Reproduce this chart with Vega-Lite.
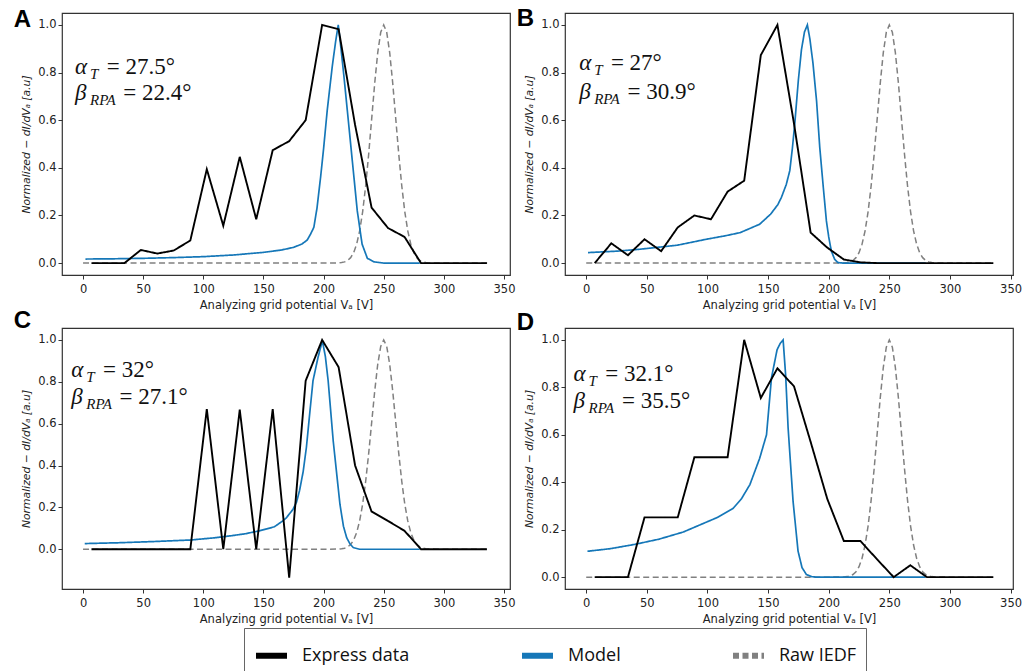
{
"$schema": "https://vega.github.io/schema/vega-lite/v6.json",
"padding": {"left": 13, "top": 6, "right": 0, "bottom": 0},
"background": "white",
"columns": 2,
"spacing": {"column": 0, "row": -4},
"resolve": {"scale": {"x": "independent", "y": "independent"}},
"datasets": {
"raw": [
{"s":"Raw IEDF","V":0,"y":0},{"s":"Raw IEDF","V":100,"y":0},{"s":"Raw IEDF","V":200,"y":0},{"s":"Raw IEDF","V":212.5,"y":0.0009},{"s":"Raw IEDF","V":215,"y":0.0022},{"s":"Raw IEDF","V":217.5,"y":0.0051},{"s":"Raw IEDF","V":220,"y":0.0111},{"s":"Raw IEDF","V":222.5,"y":0.0228},{"s":"Raw IEDF","V":225,"y":0.0439},{"s":"Raw IEDF","V":227.5,"y":0.0796},{"s":"Raw IEDF","V":230,"y":0.1353},{"s":"Raw IEDF","V":232.5,"y":0.2163},{"s":"Raw IEDF","V":235,"y":0.3247},{"s":"Raw IEDF","V":237.5,"y":0.4578},{"s":"Raw IEDF","V":240,"y":0.6065},{"s":"Raw IEDF","V":242.5,"y":0.7548},{"s":"Raw IEDF","V":245,"y":0.8825},{"s":"Raw IEDF","V":247.5,"y":0.969},{"s":"Raw IEDF","V":250,"y":1},{"s":"Raw IEDF","V":252.5,"y":0.969},{"s":"Raw IEDF","V":255,"y":0.8825},{"s":"Raw IEDF","V":257.5,"y":0.7548},{"s":"Raw IEDF","V":260,"y":0.6065},{"s":"Raw IEDF","V":262.5,"y":0.4578},{"s":"Raw IEDF","V":265,"y":0.3247},{"s":"Raw IEDF","V":267.5,"y":0.2163},{"s":"Raw IEDF","V":270,"y":0.1353},{"s":"Raw IEDF","V":272.5,"y":0.0796},{"s":"Raw IEDF","V":275,"y":0.0439},{"s":"Raw IEDF","V":277.5,"y":0.0228},{"s":"Raw IEDF","V":280,"y":0.0111},{"s":"Raw IEDF","V":282.5,"y":0.0051},{"s":"Raw IEDF","V":285,"y":0.0022},{"s":"Raw IEDF","V":287.5,"y":0.0009},{"s":"Raw IEDF","V":300,"y":0},{"s":"Raw IEDF","V":336,"y":0}
],
"curves": [
{"p":"A","s":"Express data","V":7,"y":0},{"p":"A","s":"Express data","V":20.7,"y":0},{"p":"A","s":"Express data","V":34.4,"y":0},{"p":"A","s":"Express data","V":48.1,"y":0.055},{"p":"A","s":"Express data","V":61.8,"y":0.04},{"p":"A","s":"Express data","V":75.5,"y":0.053},{"p":"A","s":"Express data","V":89.2,"y":0.095},{"p":"A","s":"Express data","V":102.9,"y":0.394},{"p":"A","s":"Express data","V":116.6,"y":0.157},{"p":"A","s":"Express data","V":130.3,"y":0.446},{"p":"A","s":"Express data","V":144,"y":0.184},{"p":"A","s":"Express data","V":157.7,"y":0.474},{"p":"A","s":"Express data","V":171.4,"y":0.512},{"p":"A","s":"Express data","V":185.1,"y":0.6},{"p":"A","s":"Express data","V":198.8,"y":1.0},{"p":"A","s":"Express data","V":212.5,"y":0.982},{"p":"A","s":"Express data","V":226.2,"y":0.58},{"p":"A","s":"Express data","V":239.9,"y":0.233},{"p":"A","s":"Express data","V":253.6,"y":0.147},{"p":"A","s":"Express data","V":267.3,"y":0.11},{"p":"A","s":"Express data","V":281,"y":0},{"p":"A","s":"Express data","V":294.7,"y":0},{"p":"A","s":"Express data","V":308.4,"y":0},{"p":"A","s":"Express data","V":322.1,"y":0},{"p":"A","s":"Express data","V":335.8,"y":0},
{"p":"B","s":"Express data","V":7,"y":0},{"p":"B","s":"Express data","V":20.7,"y":0.083},{"p":"B","s":"Express data","V":34.4,"y":0.033},{"p":"B","s":"Express data","V":48.1,"y":0.1},{"p":"B","s":"Express data","V":61.8,"y":0.05},{"p":"B","s":"Express data","V":75.5,"y":0.15},{"p":"B","s":"Express data","V":89.2,"y":0.2},{"p":"B","s":"Express data","V":102.9,"y":0.184},{"p":"B","s":"Express data","V":116.6,"y":0.3},{"p":"B","s":"Express data","V":130.3,"y":0.346},{"p":"B","s":"Express data","V":144,"y":0.873},{"p":"B","s":"Express data","V":157.7,"y":1.0},{"p":"B","s":"Express data","V":171.4,"y":0.585},{"p":"B","s":"Express data","V":185.1,"y":0.128},{"p":"B","s":"Express data","V":198.8,"y":0.065},{"p":"B","s":"Express data","V":212.5,"y":0.015},{"p":"B","s":"Express data","V":226.2,"y":0.003},{"p":"B","s":"Express data","V":239.9,"y":0},{"p":"B","s":"Express data","V":253.6,"y":0},{"p":"B","s":"Express data","V":267.3,"y":0},{"p":"B","s":"Express data","V":281,"y":0},{"p":"B","s":"Express data","V":294.7,"y":0},{"p":"B","s":"Express data","V":308.4,"y":0},{"p":"B","s":"Express data","V":322.1,"y":0},{"p":"B","s":"Express data","V":335.8,"y":0},
{"p":"C","s":"Express data","V":7,"y":0},{"p":"C","s":"Express data","V":20.7,"y":0},{"p":"C","s":"Express data","V":34.4,"y":0},{"p":"C","s":"Express data","V":48.1,"y":0},{"p":"C","s":"Express data","V":61.8,"y":0},{"p":"C","s":"Express data","V":75.5,"y":0},{"p":"C","s":"Express data","V":89.2,"y":0},{"p":"C","s":"Express data","V":102.9,"y":0.67},{"p":"C","s":"Express data","V":116.6,"y":0},{"p":"C","s":"Express data","V":130.3,"y":0.667},{"p":"C","s":"Express data","V":144,"y":0},{"p":"C","s":"Express data","V":157.7,"y":0.67},{"p":"C","s":"Express data","V":171.4,"y":-0.136},{"p":"C","s":"Express data","V":185.1,"y":0.805},{"p":"C","s":"Express data","V":198.8,"y":1.0},{"p":"C","s":"Express data","V":212.5,"y":0.87},{"p":"C","s":"Express data","V":226.2,"y":0.4},{"p":"C","s":"Express data","V":239.9,"y":0.18},{"p":"C","s":"Express data","V":253.6,"y":0.135},{"p":"C","s":"Express data","V":267.3,"y":0.088},{"p":"C","s":"Express data","V":281,"y":0},{"p":"C","s":"Express data","V":294.7,"y":0},{"p":"C","s":"Express data","V":308.4,"y":0},{"p":"C","s":"Express data","V":322.1,"y":0},{"p":"C","s":"Express data","V":335.8,"y":0},
{"p":"D","s":"Express data","V":7,"y":0},{"p":"D","s":"Express data","V":20.7,"y":0},{"p":"D","s":"Express data","V":34.4,"y":0},{"p":"D","s":"Express data","V":48.1,"y":0.252},{"p":"D","s":"Express data","V":61.8,"y":0.252},{"p":"D","s":"Express data","V":75.5,"y":0.252},{"p":"D","s":"Express data","V":89.2,"y":0.505},{"p":"D","s":"Express data","V":102.9,"y":0.505},{"p":"D","s":"Express data","V":116.6,"y":0.505},{"p":"D","s":"Express data","V":130.3,"y":1.0},{"p":"D","s":"Express data","V":144,"y":0.755},{"p":"D","s":"Express data","V":157.7,"y":0.88},{"p":"D","s":"Express data","V":171.4,"y":0.804},{"p":"D","s":"Express data","V":185.1,"y":0.57},{"p":"D","s":"Express data","V":198.8,"y":0.33},{"p":"D","s":"Express data","V":212.5,"y":0.152},{"p":"D","s":"Express data","V":226.2,"y":0.152},{"p":"D","s":"Express data","V":239.9,"y":0.075},{"p":"D","s":"Express data","V":253.6,"y":0},{"p":"D","s":"Express data","V":267.3,"y":0.05},{"p":"D","s":"Express data","V":281,"y":0},{"p":"D","s":"Express data","V":294.7,"y":0},{"p":"D","s":"Express data","V":308.4,"y":0},{"p":"D","s":"Express data","V":322.1,"y":0},{"p":"D","s":"Express data","V":335.8,"y":0},
{"p":"A","s":"Model","V":2,"y":0.017},{"p":"A","s":"Model","V":25,"y":0.018},{"p":"A","s":"Model","V":50,"y":0.02},{"p":"A","s":"Model","V":75,"y":0.023},{"p":"A","s":"Model","V":100,"y":0.027},{"p":"A","s":"Model","V":125,"y":0.034},{"p":"A","s":"Model","V":150,"y":0.045},{"p":"A","s":"Model","V":165,"y":0.055},{"p":"A","s":"Model","V":175,"y":0.066},{"p":"A","s":"Model","V":182,"y":0.08},{"p":"A","s":"Model","V":186.4,"y":0.097},{"p":"A","s":"Model","V":189,"y":0.12},{"p":"A","s":"Model","V":191.9,"y":0.15},{"p":"A","s":"Model","V":194.5,"y":0.23},{"p":"A","s":"Model","V":197.5,"y":0.36},{"p":"A","s":"Model","V":200,"y":0.48},{"p":"A","s":"Model","V":203,"y":0.64},{"p":"A","s":"Model","V":207.2,"y":0.825},{"p":"A","s":"Model","V":210,"y":0.93},{"p":"A","s":"Model","V":212.2,"y":1.0},{"p":"A","s":"Model","V":214.5,"y":0.9},{"p":"A","s":"Model","V":217,"y":0.78},{"p":"A","s":"Model","V":222.5,"y":0.5},{"p":"A","s":"Model","V":228,"y":0.22},{"p":"A","s":"Model","V":232,"y":0.08},{"p":"A","s":"Model","V":236.4,"y":0.02},{"p":"A","s":"Model","V":242,"y":0.005},{"p":"A","s":"Model","V":250,"y":0},{"p":"A","s":"Model","V":280,"y":0},
{"p":"B","s":"Model","V":1.5,"y":0.044},{"p":"B","s":"Model","V":25,"y":0.05},{"p":"B","s":"Model","V":44,"y":0.058},{"p":"B","s":"Model","V":75,"y":0.075},{"p":"B","s":"Model","V":99,"y":0.1},{"p":"B","s":"Model","V":115,"y":0.115},{"p":"B","s":"Model","V":127,"y":0.128},{"p":"B","s":"Model","V":143,"y":0.163},{"p":"B","s":"Model","V":152,"y":0.205},{"p":"B","s":"Model","V":158,"y":0.245},{"p":"B","s":"Model","V":161,"y":0.276},{"p":"B","s":"Model","V":165,"y":0.33},{"p":"B","s":"Model","V":167.9,"y":0.388},{"p":"B","s":"Model","V":170,"y":0.48},{"p":"B","s":"Model","V":172,"y":0.585},{"p":"B","s":"Model","V":175,"y":0.77},{"p":"B","s":"Model","V":177.5,"y":0.895},{"p":"B","s":"Model","V":180,"y":0.97},{"p":"B","s":"Model","V":182.4,"y":1.0},{"p":"B","s":"Model","V":184.5,"y":0.94},{"p":"B","s":"Model","V":187,"y":0.84},{"p":"B","s":"Model","V":190,"y":0.68},{"p":"B","s":"Model","V":192.6,"y":0.487},{"p":"B","s":"Model","V":195.5,"y":0.32},{"p":"B","s":"Model","V":198.1,"y":0.177},{"p":"B","s":"Model","V":200,"y":0.11},{"p":"B","s":"Model","V":202.2,"y":0.05},{"p":"B","s":"Model","V":205,"y":0.015},{"p":"B","s":"Model","V":207.7,"y":0.002},{"p":"B","s":"Model","V":212,"y":0},{"p":"B","s":"Model","V":280,"y":0},
{"p":"C","s":"Model","V":1.4,"y":0.027},{"p":"C","s":"Model","V":30,"y":0.031},{"p":"C","s":"Model","V":60,"y":0.037},{"p":"C","s":"Model","V":89.3,"y":0.044},{"p":"C","s":"Model","V":110,"y":0.055},{"p":"C","s":"Model","V":124,"y":0.065},{"p":"C","s":"Model","V":135,"y":0.074},{"p":"C","s":"Model","V":146.6,"y":0.088},{"p":"C","s":"Model","V":159,"y":0.107},{"p":"C","s":"Model","V":166,"y":0.135},{"p":"C","s":"Model","V":169,"y":0.15},{"p":"C","s":"Model","V":174.5,"y":0.19},{"p":"C","s":"Model","V":177.5,"y":0.225},{"p":"C","s":"Model","V":180,"y":0.28},{"p":"C","s":"Model","V":183,"y":0.37},{"p":"C","s":"Model","V":185.7,"y":0.486},{"p":"C","s":"Model","V":188.5,"y":0.65},{"p":"C","s":"Model","V":191.2,"y":0.805},{"p":"C","s":"Model","V":195.4,"y":0.917},{"p":"C","s":"Model","V":199,"y":0.997},{"p":"C","s":"Model","V":201.5,"y":0.92},{"p":"C","s":"Model","V":203.8,"y":0.805},{"p":"C","s":"Model","V":208,"y":0.518},{"p":"C","s":"Model","V":213.6,"y":0.215},{"p":"C","s":"Model","V":216.5,"y":0.11},{"p":"C","s":"Model","V":219.2,"y":0.055},{"p":"C","s":"Model","V":222,"y":0.025},{"p":"C","s":"Model","V":224.7,"y":0.008},{"p":"C","s":"Model","V":230,"y":0},{"p":"C","s":"Model","V":280,"y":0},
{"p":"D","s":"Model","V":1,"y":0.109},{"p":"D","s":"Model","V":20,"y":0.12},{"p":"D","s":"Model","V":40,"y":0.138},{"p":"D","s":"Model","V":60,"y":0.16},{"p":"D","s":"Model","V":80,"y":0.19},{"p":"D","s":"Model","V":93.7,"y":0.22},{"p":"D","s":"Model","V":107.5,"y":0.25},{"p":"D","s":"Model","V":121.2,"y":0.29},{"p":"D","s":"Model","V":128,"y":0.33},{"p":"D","s":"Model","V":135,"y":0.39},{"p":"D","s":"Model","V":143,"y":0.5},{"p":"D","s":"Model","V":148.7,"y":0.6},{"p":"D","s":"Model","V":152.8,"y":0.84},{"p":"D","s":"Model","V":157.4,"y":0.958},{"p":"D","s":"Model","V":160,"y":0.985},{"p":"D","s":"Model","V":162.4,"y":1.0},{"p":"D","s":"Model","V":164.5,"y":0.85},{"p":"D","s":"Model","V":166.5,"y":0.63},{"p":"D","s":"Model","V":170.6,"y":0.32},{"p":"D","s":"Model","V":174.7,"y":0.11},{"p":"D","s":"Model","V":178,"y":0.04},{"p":"D","s":"Model","V":181.6,"y":0.011},{"p":"D","s":"Model","V":186,"y":0.002},{"p":"D","s":"Model","V":190,"y":0},{"p":"D","s":"Model","V":280,"y":0}
],
"labels": [
{"p":"A","line":1,"g":"α","sub":"T","rest":"= 27.5°","V":-6.7,"y":0.794},
{"p":"A","line":2,"g":"β","sub":"RPA","rest":"= 22.4°","V":-6.7,"y":0.685},
{"p":"B","line":1,"g":"α","sub":"T","rest":"= 27°","V":-5.8,"y":0.81},
{"p":"B","line":2,"g":"β","sub":"RPA","rest":"= 30.9°","V":-5.8,"y":0.69},
{"p":"C","line":1,"g":"α","sub":"T","rest":"= 32°","V":-9.8,"y":0.821},
{"p":"C","line":2,"g":"β","sub":"RPA","rest":"= 27.1°","V":-9.8,"y":0.694},
{"p":"D","line":1,"g":"α","sub":"T","rest":"= 32.1°","V":-10.4,"y":0.825},
{"p":"D","line":2,"g":"β","sub":"RPA","rest":"= 35.5°","V":-10.4,"y":0.713}
]
},
"config": {
"view": {"stroke": "#333", "strokeWidth": 1.2},
"font": "DejaVu Sans",
"axis": {"domain": false, "grid": false, "tickColor": "#333", "tickSize": 4, "labelFont": "DejaVu Sans", "labelFontSize": 11.5, "labelColor": "#222", "labelPadding": 2, "titleFont": "DejaVu Sans", "titleFontSize": 10.8, "titleFontWeight": "normal", "titleColor": "#222"},
"axisX": {"titlePadding": 5, "labelPadding": 4, "titleFontSize": 11.5},
"axisY": {"titlePadding": 6, "titleFontStyle": "italic"},
"title": {"font": "Liberation Sans", "fontSize": 24, "fontWeight": "bold", "anchor": "start", "frame": "bounds", "color": "#000"},
"legend": {"symbolType": "stroke", "symbolSize": 961, "symbolStrokeWidth": 6, "labelFont": "Open Sans", "labelFontSize": 18, "labelColor": "#111", "labelOffset": 12, "padding": 9, "strokeColor": "#666", "fillColor": "white", "columnPadding": 100, "direction": "horizontal"}
},
"concat": [
{
"width": 448, "height": 262,
"title": {"text": "A", "offset": -19, "dx": -7},
"encoding": {
"x": {"field": "V", "type": "quantitative", "scale": {"domain": [-17.5, 355], "nice": false, "zero": false}, "axis": {"values": [0,50,100,150,200,250,300,350], "title": "Analyzing grid potential Vₐ [V]"}},
"y": {"field": "y", "type": "quantitative", "scale": {"domain": [-0.05, 1.05], "nice": false, "zero": false}, "axis": {"values": [0,0.2,0.4,0.6,0.8,1], "format": ".1f", "title": "Normalized − dI/dVₐ [a.u]"}}
},
"layer": [
{"data": {"name": "raw"}, "mark": {"type": "line", "strokeWidth": 1.5}, "encoding": {"color": {"field": "s", "type": "nominal", "scale": {"domain": ["Express data","Model","Raw IEDF"], "range": ["#000000","#1577b8","#808080"]}, "legend": {"title": null, "orient": "none", "legendX": 182, "legendY": 615}}, "strokeDash": {"field": "s", "type": "nominal", "scale": {"domain": ["Express data","Model","Raw IEDF"], "range": [[1,0],[1,0],[6,3.5]]}, "legend": {"title": null, "orient": "none", "legendX": 182, "legendY": 615}}}},
{"data": {"name": "curves"}, "transform": [{"filter": "datum.p === 'A' && datum.s === 'Model'"}], "mark": {"type": "line", "strokeWidth": 1.7}, "encoding": {"color": {"field": "s", "type": "nominal"}, "strokeDash": {"field": "s", "type": "nominal"}}},
{"data": {"name": "curves"}, "transform": [{"filter": "datum.p === 'A' && datum.s === 'Express data'"}], "mark": {"type": "line", "strokeWidth": 1.9}, "encoding": {"color": {"field": "s", "type": "nominal"}, "strokeDash": {"field": "s", "type": "nominal"}}},
{"data": {"name": "labels"}, "transform": [{"filter": "datum.p === 'A'"}], "mark": {"type": "text", "align": "left", "baseline": "alphabetic", "font": "Liberation Serif", "fontSize": 23, "fontStyle": "italic", "color": "#111"}, "encoding": {"text": {"field": "g"}}},
{"data": {"name": "labels"}, "transform": [{"filter": "datum.p === 'A'"}], "mark": {"type": "text", "align": "left", "baseline": "alphabetic", "font": "Liberation Serif", "fontSize": 15, "fontStyle": "italic", "dx": 15, "dy": 5, "color": "#111"}, "encoding": {"text": {"field": "sub"}}},
{"data": {"name": "labels"}, "transform": [{"filter": "datum.p === 'A' && datum.line === 1"}], "mark": {"type": "text", "align": "left", "baseline": "alphabetic", "font": "Liberation Serif", "fontSize": 23, "dx": 31.7, "color": "#111"}, "encoding": {"text": {"field": "rest"}}},
{"data": {"name": "labels"}, "transform": [{"filter": "datum.p === 'A' && datum.line === 2"}], "mark": {"type": "text", "align": "left", "baseline": "alphabetic", "font": "Liberation Serif", "fontSize": 23, "dx": 48.3, "color": "#111"}, "encoding": {"text": {"field": "rest"}}}
]
},
{
"width": 448, "height": 262,
"title": {"text": "B", "offset": -18, "dx": -7},
"encoding": {
"x": {"field": "V", "type": "quantitative", "scale": {"domain": [-17.5, 352], "nice": false, "zero": false}, "axis": {"values": [0,50,100,150,200,250,300,350], "title": "Analyzing grid potential Vₐ [V]"}},
"y": {"field": "y", "type": "quantitative", "scale": {"domain": [-0.05, 1.05], "nice": false, "zero": false}, "axis": {"values": [0,0.2,0.4,0.6,0.8,1], "format": ".1f", "title": "Normalized − dI/dVₐ [a.u]"}}
},
"layer": [
{"data": {"name": "raw"}, "mark": {"type": "line", "strokeWidth": 1.5}, "encoding": {"color": {"field": "s", "type": "nominal"}, "strokeDash": {"field": "s", "type": "nominal"}}},
{"data": {"name": "curves"}, "transform": [{"filter": "datum.p === 'B' && datum.s === 'Model'"}], "mark": {"type": "line", "strokeWidth": 1.7}, "encoding": {"color": {"field": "s", "type": "nominal"}, "strokeDash": {"field": "s", "type": "nominal"}}},
{"data": {"name": "curves"}, "transform": [{"filter": "datum.p === 'B' && datum.s === 'Express data'"}], "mark": {"type": "line", "strokeWidth": 1.9}, "encoding": {"color": {"field": "s", "type": "nominal"}, "strokeDash": {"field": "s", "type": "nominal"}}},
{"data": {"name": "labels"}, "transform": [{"filter": "datum.p === 'B'"}], "mark": {"type": "text", "align": "left", "baseline": "alphabetic", "font": "Liberation Serif", "fontSize": 23, "fontStyle": "italic", "color": "#111"}, "encoding": {"text": {"field": "g"}}},
{"data": {"name": "labels"}, "transform": [{"filter": "datum.p === 'B'"}], "mark": {"type": "text", "align": "left", "baseline": "alphabetic", "font": "Liberation Serif", "fontSize": 15, "fontStyle": "italic", "dx": 15, "dy": 5, "color": "#111"}, "encoding": {"text": {"field": "sub"}}},
{"data": {"name": "labels"}, "transform": [{"filter": "datum.p === 'B' && datum.line === 1"}], "mark": {"type": "text", "align": "left", "baseline": "alphabetic", "font": "Liberation Serif", "fontSize": 23, "dx": 31.7, "color": "#111"}, "encoding": {"text": {"field": "rest"}}},
{"data": {"name": "labels"}, "transform": [{"filter": "datum.p === 'B' && datum.line === 2"}], "mark": {"type": "text", "align": "left", "baseline": "alphabetic", "font": "Liberation Serif", "fontSize": 23, "dx": 48.3, "color": "#111"}, "encoding": {"text": {"field": "rest"}}}
]
},
{
"width": 448, "height": 261,
"title": {"text": "C", "offset": -5, "dx": -7},
"encoding": {
"x": {"field": "V", "type": "quantitative", "scale": {"domain": [-17.5, 355], "nice": false, "zero": false}, "axis": {"values": [0,50,100,150,200,250,300,350], "title": "Analyzing grid potential Vₐ [V]"}},
"y": {"field": "y", "type": "quantitative", "scale": {"domain": [-0.19, 1.057], "nice": false, "zero": false}, "axis": {"values": [0,0.2,0.4,0.6,0.8,1], "format": ".1f", "title": "Normalized − dI/dVₐ [a.u]"}}
},
"layer": [
{"data": {"name": "raw"}, "mark": {"type": "line", "strokeWidth": 1.5}, "encoding": {"color": {"field": "s", "type": "nominal"}, "strokeDash": {"field": "s", "type": "nominal"}}},
{"data": {"name": "curves"}, "transform": [{"filter": "datum.p === 'C' && datum.s === 'Model'"}], "mark": {"type": "line", "strokeWidth": 1.7}, "encoding": {"color": {"field": "s", "type": "nominal"}, "strokeDash": {"field": "s", "type": "nominal"}}},
{"data": {"name": "curves"}, "transform": [{"filter": "datum.p === 'C' && datum.s === 'Express data'"}], "mark": {"type": "line", "strokeWidth": 1.9}, "encoding": {"color": {"field": "s", "type": "nominal"}, "strokeDash": {"field": "s", "type": "nominal"}}},
{"data": {"name": "labels"}, "transform": [{"filter": "datum.p === 'C'"}], "mark": {"type": "text", "align": "left", "baseline": "alphabetic", "font": "Liberation Serif", "fontSize": 23, "fontStyle": "italic", "color": "#111"}, "encoding": {"text": {"field": "g"}}},
{"data": {"name": "labels"}, "transform": [{"filter": "datum.p === 'C'"}], "mark": {"type": "text", "align": "left", "baseline": "alphabetic", "font": "Liberation Serif", "fontSize": 15, "fontStyle": "italic", "dx": 15, "dy": 5, "color": "#111"}, "encoding": {"text": {"field": "sub"}}},
{"data": {"name": "labels"}, "transform": [{"filter": "datum.p === 'C' && datum.line === 1"}], "mark": {"type": "text", "align": "left", "baseline": "alphabetic", "font": "Liberation Serif", "fontSize": 23, "dx": 31.7, "color": "#111"}, "encoding": {"text": {"field": "rest"}}},
{"data": {"name": "labels"}, "transform": [{"filter": "datum.p === 'C' && datum.line === 2"}], "mark": {"type": "text", "align": "left", "baseline": "alphabetic", "font": "Liberation Serif", "fontSize": 23, "dx": 48.3, "color": "#111"}, "encoding": {"text": {"field": "rest"}}}
]
},
{
"width": 448, "height": 261,
"title": {"text": "D", "offset": -7, "dx": -7},
"encoding": {
"x": {"field": "V", "type": "quantitative", "scale": {"domain": [-17.5, 352], "nice": false, "zero": false}, "axis": {"values": [0,50,100,150,200,250,300,350], "title": "Analyzing grid potential Vₐ [V]"}},
"y": {"field": "y", "type": "quantitative", "scale": {"domain": [-0.05, 1.05], "nice": false, "zero": false}, "axis": {"values": [0,0.2,0.4,0.6,0.8,1], "format": ".1f", "title": "Normalized − dI/dVₐ [a.u]"}}
},
"layer": [
{"data": {"name": "raw"}, "mark": {"type": "line", "strokeWidth": 1.5}, "encoding": {"color": {"field": "s", "type": "nominal"}, "strokeDash": {"field": "s", "type": "nominal"}}},
{"data": {"name": "curves"}, "transform": [{"filter": "datum.p === 'D' && datum.s === 'Model'"}], "mark": {"type": "line", "strokeWidth": 1.7}, "encoding": {"color": {"field": "s", "type": "nominal"}, "strokeDash": {"field": "s", "type": "nominal"}}},
{"data": {"name": "curves"}, "transform": [{"filter": "datum.p === 'D' && datum.s === 'Express data'"}], "mark": {"type": "line", "strokeWidth": 1.9}, "encoding": {"color": {"field": "s", "type": "nominal"}, "strokeDash": {"field": "s", "type": "nominal"}}},
{"data": {"name": "labels"}, "transform": [{"filter": "datum.p === 'D'"}], "mark": {"type": "text", "align": "left", "baseline": "alphabetic", "font": "Liberation Serif", "fontSize": 23, "fontStyle": "italic", "color": "#111"}, "encoding": {"text": {"field": "g"}}},
{"data": {"name": "labels"}, "transform": [{"filter": "datum.p === 'D'"}], "mark": {"type": "text", "align": "left", "baseline": "alphabetic", "font": "Liberation Serif", "fontSize": 15, "fontStyle": "italic", "dx": 15, "dy": 5, "color": "#111"}, "encoding": {"text": {"field": "sub"}}},
{"data": {"name": "labels"}, "transform": [{"filter": "datum.p === 'D' && datum.line === 1"}], "mark": {"type": "text", "align": "left", "baseline": "alphabetic", "font": "Liberation Serif", "fontSize": 23, "dx": 31.7, "color": "#111"}, "encoding": {"text": {"field": "rest"}}},
{"data": {"name": "labels"}, "transform": [{"filter": "datum.p === 'D' && datum.line === 2"}], "mark": {"type": "text", "align": "left", "baseline": "alphabetic", "font": "Liberation Serif", "fontSize": 23, "dx": 48.3, "color": "#111"}, "encoding": {"text": {"field": "rest"}}}
]
}
]
}
